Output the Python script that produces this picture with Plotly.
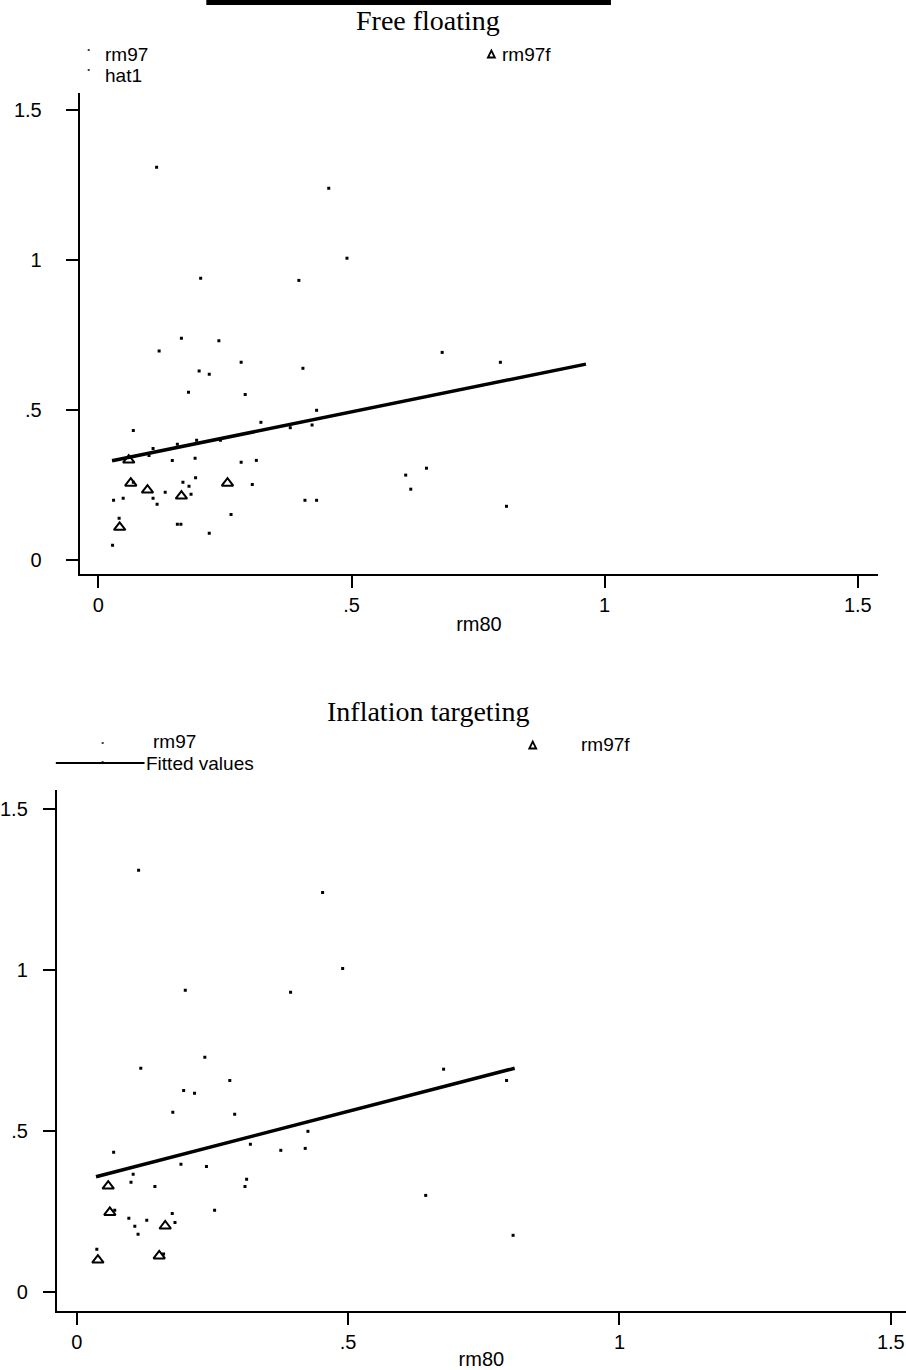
import plotly.graph_objects as go

W, H = 906, 1370

# ---------------- Data: Free floating ----------------
ff_rm80 = [0.115, 0.455, 0.491, 0.202, 0.396, 0.164, 0.238, 0.120, 0.679, 0.794,
           0.282, 0.404, 0.199, 0.219, 0.178, 0.290, 0.431, 0.069, 0.321, 0.379,
           0.422, 0.156, 0.194, 0.241, 0.108, 0.100, 0.146, 0.191, 0.282, 0.312,
           0.607, 0.648, 0.617, 0.192, 0.167, 0.179, 0.183, 0.304, 0.069, 0.030,
           0.049, 0.108, 0.132, 0.116, 0.408, 0.431, 0.806, 0.262, 0.156, 0.163,
           0.041, 0.219, 0.028]
ff_rm97 = [1.309, 1.239, 1.006, 0.939, 0.932, 0.739, 0.731, 0.697, 0.692, 0.659,
           0.659, 0.639, 0.630, 0.619, 0.559, 0.552, 0.499, 0.432, 0.459, 0.441,
           0.450, 0.386, 0.399, 0.399, 0.372, 0.348, 0.332, 0.339, 0.326, 0.332,
           0.283, 0.306, 0.236, 0.274, 0.259, 0.246, 0.219, 0.252, 0.259, 0.199,
           0.206, 0.206, 0.226, 0.186, 0.199, 0.199, 0.179, 0.152, 0.119, 0.119,
           0.139, 0.089, 0.049]
ff_f_rm80 = [0.060, 0.064, 0.097, 0.164, 0.255, 0.042]
ff_f_rm97 = [0.333, 0.256, 0.233, 0.213, 0.256, 0.109]
ff_hat_rm80 = [0.027, 0.963]
ff_hat1 = [0.331, 0.653]

# ---------------- Data: Inflation targeting ----------------
it_rm80 = [0.114, 0.453, 0.490, 0.200, 0.394, 0.236, 0.118, 0.676, 0.792, 0.282,
           0.197, 0.217, 0.177, 0.291, 0.426, 0.068, 0.320, 0.376, 0.421, 0.192,
           0.239, 0.104, 0.100, 0.144, 0.313, 0.310, 0.643, 0.070, 0.176, 0.181,
           0.254, 0.096, 0.129, 0.107, 0.113, 0.804, 0.037, 0.160]
it_rm97 = [1.310, 1.241, 1.005, 0.937, 0.931, 0.729, 0.695, 0.692, 0.657, 0.657,
           0.626, 0.617, 0.558, 0.552, 0.499, 0.434, 0.459, 0.440, 0.446, 0.397,
           0.390, 0.366, 0.341, 0.328, 0.350, 0.328, 0.300, 0.254, 0.244, 0.216,
           0.254, 0.229, 0.223, 0.204, 0.179, 0.176, 0.133, 0.118]
it_f_rm80 = [0.058, 0.061, 0.163, 0.039, 0.152]
it_f_rm97 = [0.329, 0.247, 0.205, 0.099, 0.112]
it_fit_rm80 = [0.0355, 0.807]
it_fit = [0.358, 0.695]

tick_vals = [0, 0.5, 1, 1.5]
tick_text = ["0", ".5", "1", "1.5"]

SANS = "Liberation Sans"
SERIF = "Liberation Serif"


def px(x):
    return x / W


def py(y):
    return 1 - y / H


fig = go.Figure()

dot = dict(symbol="square", size=3, color="black", line=dict(width=0))
tri = dict(symbol="triangle-up-open", size=10, color="black", line=dict(width=2, color="black"))

# top panel
fig.add_trace(go.Scatter(x=ff_rm80, y=ff_rm97, mode="markers", marker=dot, name="rm97",
                         xaxis="x", yaxis="y", showlegend=False))
fig.add_trace(go.Scatter(x=ff_hat_rm80, y=ff_hat1, mode="lines", line=dict(color="black", width=3.5),
                         name="hat1", xaxis="x", yaxis="y", showlegend=False))
fig.add_trace(go.Scatter(x=ff_f_rm80, y=ff_f_rm97, mode="markers", marker=tri, name="rm97f",
                         xaxis="x", yaxis="y", showlegend=False))
# bottom panel
fig.add_trace(go.Scatter(x=it_rm80, y=it_rm97, mode="markers", marker=dot, name="rm97",
                         xaxis="x2", yaxis="y2", showlegend=False))
fig.add_trace(go.Scatter(x=it_fit_rm80, y=it_fit, mode="lines", line=dict(color="black", width=3.5),
                         name="Fitted values", xaxis="x2", yaxis="y2", showlegend=False))
fig.add_trace(go.Scatter(x=it_f_rm80, y=it_f_rm97, mode="markers", marker=tri, name="rm97f",
                         xaxis="x2", yaxis="y2", showlegend=False))

axis_common = dict(showline=True, linecolor="black", linewidth=2, ticks="outside", ticklen=12,
                   tickwidth=2, tickcolor="black", showgrid=False, zeroline=False,
                   tickvals=tick_vals, ticktext=tick_text,
                   tickfont=dict(family=SANS, size=20, color="black"))

fig.update_layout(
    width=W, height=H, margin=dict(l=0, r=0, t=0, b=0),
    paper_bgcolor="white", plot_bgcolor="white",
    xaxis=dict(domain=[px(77), px(878)], range=[-0.0368, 1.540], anchor="y",
               title=dict(text="rm80", font=dict(family=SANS, size=20, color="black"), standoff=2),
               **axis_common),
    yaxis=dict(domain=[py(574), py(93)], range=[-0.0467, 1.5567], anchor="x",
               ticklabelstandoff=20, **axis_common),
    xaxis2=dict(domain=[px(54), 1.0], range=[-0.0367, 1.528], anchor="y2",
                title=dict(text="rm80", font=dict(family=SANS, size=20, color="black"), standoff=2),
                **axis_common),
    yaxis2=dict(domain=[py(1311), py(790)], range=[-0.059, 1.559], anchor="x2",
                ticklabelstandoff=11, **axis_common),
)

ann = []
shapes = []


def text(x, y, s, size=19, family=SANS, xanchor="left"):
    ann.append(dict(x=px(x), y=py(y), xref="paper", yref="paper", text=s, showarrow=False,
                    xanchor=xanchor, yanchor="middle", borderpad=0,
                    font=dict(family=family, size=size, color="black")))


def small_dot(x, y):
    shapes.append(dict(type="rect", xref="paper", yref="paper", x0=px(x - 1), x1=px(x + 1),
                       y0=py(y - 0.75), y1=py(y + 0.75), fillcolor="black", line=dict(width=0)))


def small_tri(x, y, w=7, h=7):
    path = "M {} {} L {} {} L {} {} Z".format(px(x - w / 2), py(y + h / 2), px(x + w / 2), py(y + h / 2),
                                              px(x), py(y - h / 2))
    shapes.append(dict(type="path", xref="paper", yref="paper", path=path,
                       line=dict(color="black", width=1.8), fillcolor="rgba(0,0,0,0)"))


# cut-off super title bar
shapes.append(dict(type="rect", xref="paper", yref="paper", x0=px(204), x1=px(610), y0=py(5), y1=py(-2),
                   fillcolor="black", line=dict(width=0)))

# titles
text(426, 21, "Free floating", size=28, family=SERIF, xanchor="center")
text(426, 711, "Inflation targeting", size=28, family=SERIF, xanchor="center")

# top legend
small_dot(86, 50)
text(101, 54, "rm97")
small_dot(86, 70)
text(101, 76, "hat1")
small_tri(490, 54)
text(500, 54, "rm97f")

# bottom legend
small_dot(100, 743)
text(149, 741, "rm97")
small_tri(531.5, 745)
text(579, 744, "rm97f")
shapes.append(dict(type="line", xref="paper", yref="paper", x0=px(53), x1=px(142), y0=py(763), y1=py(763),
                   line=dict(color="black", width=2)))
small_dot(100, 762)
text(142, 763, "Fitted values")

fig.update_layout(annotations=ann, shapes=shapes)

fig.write_html("out.html")
